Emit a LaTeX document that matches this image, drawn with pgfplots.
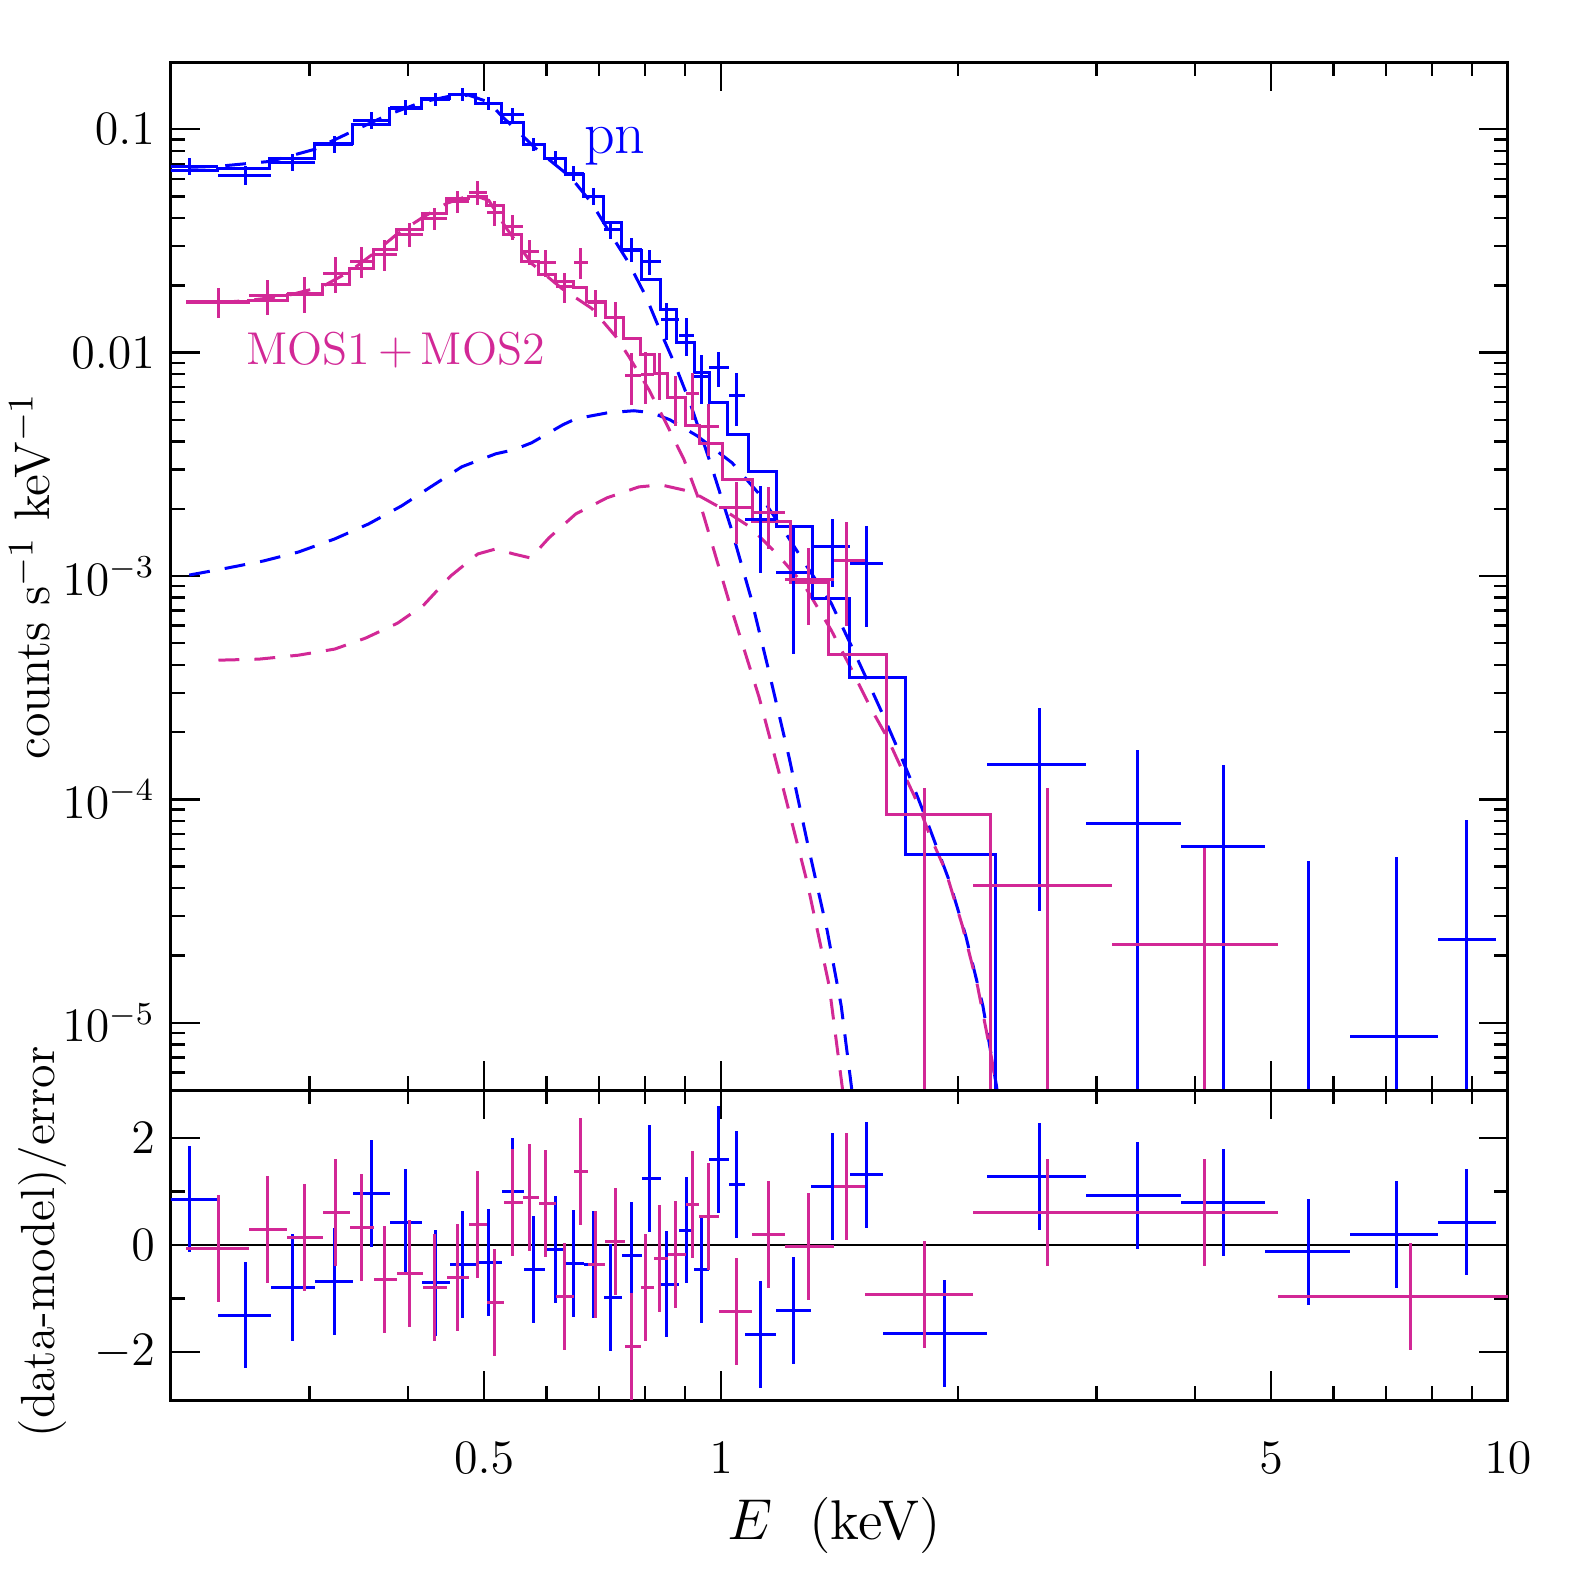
\documentclass[border=0pt]{standalone}
\usepackage{pgfplots}
\pgfplotsset{compat=1.18}
\usepackage{pgfplotstable}

\definecolor{pnblue}{RGB}{0,0,255}
\definecolor{mosred}{RGB}{210,40,150}

% pn data: energy, bin half widths, rate, errors, residual
\pgfplotstableread{
x xm xp y em ep r
0.2110 0.0120 0.0188 0.0683 0.0062 0.0062 0.86
0.2487 0.0189 0.0189 0.0622 0.0061 0.0061 -1.31
0.2854 0.0178 0.0191 0.0711 0.0064 0.0064 -0.79
0.3228 0.0183 0.0183 0.0857 0.0073 0.0073 -0.69
0.3597 0.0186 0.0195 0.1097 0.0093 0.0093 0.97
0.3974 0.0182 0.0191 0.1256 0.0094 0.0094 0.43
0.4339 0.0174 0.0181 0.1363 0.0089 0.0089 -0.71
0.4697 0.0177 0.0182 0.1436 0.0093 0.0093 -0.37
0.5068 0.0189 0.0197 0.1308 0.0085 0.0085 -0.32
0.5437 0.0172 0.0177 0.1168 0.0076 0.0076 1.00
0.5782 0.0168 0.0190 0.0857 0.0060 0.0060 -0.45
0.6168 0.0196 0.0183 0.0741 0.0056 0.0056 -0.09
0.6501 0.0150 0.0194 0.0635 0.0048 0.0048 -0.34
0.6894 0.0199 0.0204 0.0501 0.0045 0.0045 -0.36
0.7245 0.0147 0.0237 0.0356 0.0032 0.0032 -0.99
0.7704 0.0222 0.0230 0.0290 0.0035 0.0035 -0.20
0.8121 0.0187 0.0265 0.0256 0.0033 0.0033 1.25
0.8534 0.0148 0.0308 0.01406 0.0027 0.0027 -0.73
0.9026 0.0184 0.0214 0.01192 0.0023 0.0023 0.28
0.9432 0.0192 0.0223 0.00781 0.00195 0.00195 -0.45
0.9912 0.0257 0.0325 0.00857 0.00154 0.00154 1.60
1.0449 0.0212 0.0279 0.00641 0.00173 0.00173 1.14
1.1210 0.0482 0.0538 0.001783 0.00075 0.00075 -1.68
1.2346 0.0598 0.0671 0.001042 0.000594 0.000594 -1.22
1.3839 0.0822 0.0751 0.001349 0.000459 0.000459 1.10
1.5292 0.0702 0.0778 0.001132 0.000543 0.000543 1.31
1.9204 0.3134 0.2596 1e-6 9e-7 1e-7 -1.66
2.539 0.359 0.374 1.435e-4 1.12e-4 1.12e-4 1.29
3.383 0.470 0.464 7.8e-5 7.72e-5 8.8e-5 0.92
4.352 0.505 0.556 6.15e-5 6.09e-5 8.05e-5 0.79
5.582 0.674 0.713 1e-6 9e-7 5.2e-5 -0.13
7.223 0.928 0.923 8.65e-6 8.56e-6 4.64e-5 0.19
8.869 0.723 0.785 2.35e-5 2.33e-5 5.7e-5 0.43
}\pndata

% MOS1+MOS2 data
\pgfplotstableread{
x xm xp y em ep r
0.2298 0.0206 0.0211 0.01693 0.00262 0.00262 -0.07
0.2653 0.0144 0.0159 0.01801 0.00324 0.00324 0.29
0.2956 0.0144 0.0160 0.01839 0.00331 0.00331 0.14
0.3237 0.0121 0.0136 0.02261 0.00407 0.00407 0.60
0.3494 0.0121 0.0124 0.02559 0.00397 0.00397 0.32
0.3736 0.0118 0.0134 0.02751 0.00426 0.00426 -0.64
0.4021 0.0151 0.0156 0.03381 0.00406 0.00406 -0.53
0.4326 0.0149 0.0155 0.03990 0.00439 0.00439 -0.79
0.4628 0.0147 0.0152 0.04754 0.00523 0.00523 -0.60
0.4907 0.0127 0.0131 0.05219 0.00626 0.00626 0.39
0.5158 0.0120 0.0138 0.04244 0.00552 0.00552 -1.07
0.5437 0.0141 0.0161 0.03673 0.00477 0.00477 0.80
0.5715 0.0117 0.0152 0.02837 0.00369 0.00369 0.89
0.5990 0.0123 0.0178 0.02533 0.00355 0.00355 0.77
0.6333 0.0165 0.0168 0.01977 0.00306 0.00306 -0.97
0.6636 0.0135 0.0138 0.02533 0.00393 0.00393 1.38
0.6935 0.0161 0.0184 0.01676 0.00235 0.00235 -0.36
0.7350 0.0231 0.0198 0.01435 0.00244 0.00244 0.06
0.7704 0.0156 0.0207 0.00788 0.00205 0.00205 -1.90
0.8027 0.0116 0.0189 0.00796 0.00207 0.00207 -0.79
0.8362 0.0146 0.0197 0.00805 0.00193 0.00193 -0.25
0.8763 0.0204 0.0263 0.00628 0.00157 0.00157 -0.17
0.9186 0.0160 0.0190 0.00655 0.00157 0.00157 0.75
0.9627 0.0251 0.0315 0.00466 0.00121 0.00121 0.54
1.0449 0.0507 0.0501 0.002018 0.000626 0.000626 -1.24
1.1477 0.0527 0.0584 0.001917 0.000594 0.000594 0.19
1.2928 0.0867 0.0983 0.000969 0.000368 0.000368 -0.03
1.4428 0.0517 0.0818 0.001168 0.000572 0.000572 1.10
1.8128 0.2882 0.2772 1e-6 9e-7 1.11e-4 -0.93
2.599 0.509 0.536 4.11e-5 4.07e-5 7.1e-5 0.60
4.116 0.981 0.983 2.24e-5 2.22e-5 3.8e-5 0.60
7.525 2.426 2.475 1e-6 9e-7 1e-7 -0.97
}\mosdata

% folded models (bin left edges)
\pgfplotstableread{
x y
0.199 0.06548
0.2291 0.06685
0.2669 0.07413
0.3045 0.08654
0.3402 0.1053
0.3792 0.1243
0.4165 0.1377
0.4520 0.1436
0.4879 0.1308
0.5265 0.1075
0.5614 0.0857
0.5972 0.07413
0.6351 0.06282
0.6695 0.0501
0.7098 0.03828
0.7482 0.02867
0.7934 0.02126
0.8386 0.01559
0.8789 0.01109
0.9240 0.008134
0.9655 0.005969
1.0177 0.004289
1.0823 0.002927
1.1748 0.001658
1.3055 0.000796
1.4552 0.0003525
1.7143 5.669e-5
2.2319 1e-7
}\pnmodel

\pgfplotstableread{
x y
0.2092 0.01676
0.2509 0.01711
0.2812 0.0182
0.3116 0.02018
0.3373 0.0238
0.3618 0.02896
0.3870 0.0356
0.4177 0.0420
0.4481 0.04905
0.4780 0.0501
0.5038 0.04562
0.5296 0.03381
0.5583 0.02559
0.5867 0.02238
0.6168 0.02082
0.6501 0.01956
0.6755 0.01693
0.7140 0.01435
0.7526 0.01156
0.7911 0.009795
0.8240 0.00805
0.8559 0.00628
0.9000 0.004707
0.9376 0.003907
1.0029 0.002694
1.0950 0.001747
1.2238 0.00094
1.3680 0.000447
1.6218 8.568e-5
2.1990 1e-7
}\mosmodel

% model components
\pgfplotstableread{
x y
0.2110 0.06756
0.2298 0.06826
0.2676 0.07185
0.3045 0.08134
0.3402 0.09795
0.3792 0.1168
0.4165 0.1322
0.4520 0.1406
0.4780 0.1421
0.5068 0.1322
0.5265 0.1144
0.5534 0.09694
0.5867 0.07968
0.6444 0.06093
0.6852 0.04659
0.7245 0.03381
0.7614 0.02559
0.8027 0.01783
0.8386 0.01230
0.8739 0.008835
0.9132 0.005969
0.9711 0.003147
1.0297 0.001641
1.0919 0.000796
1.1477 0.0003868
1.2202 0.0001543
1.2898 6.219e-5
1.3642 2.585e-5
1.4213 1.192e-5
1.4668 4.955e-6
1.4763 4.47e-6
}\pnsoft

\pgfplotstableread{
x y
0.2110 0.001010
0.2359 0.001086
0.2622 0.001168
0.2905 0.001281
0.3228 0.001465
0.3566 0.001711
0.3927 0.002060
0.4276 0.002506
0.4683 0.003083
0.5173 0.003525
0.5451 0.003673
0.5745 0.003948
0.6295 0.004754
0.6538 0.005058
0.7182 0.005381
0.7750 0.005494
0.8168 0.005381
0.8609 0.005006
0.9322 0.004244
1.0328 0.003212
1.1177 0.002331
1.2096 0.001543
1.2868 0.001098
1.3803 0.0007567
1.4668 0.0004804
1.5337 0.0003417
1.6027 0.000243
1.6846 0.0001625
1.7500 0.000118
1.8255 8.049e-5
1.9495 4.334e-5
2.0461 2.455e-5
2.1513 1.192e-5
2.2387 5.218e-6
2.2514 4.47e-6
}\pnhard

\pgfplotstableread{
x y
0.2298 0.01676
0.2509 0.01711
0.2812 0.01801
0.3116 0.01977
0.3373 0.02307
0.3618 0.02779
0.3870 0.03381
0.4177 0.04030
0.4481 0.04659
0.4711 0.04955
0.4893 0.0501
0.5068 0.04803
0.5327 0.03635
0.5534 0.03019
0.5745 0.02506
0.6277 0.01936
0.6852 0.01576
0.7350 0.01180
0.7638 0.009596
0.8097 0.006826
0.8509 0.004855
0.8975 0.003313
0.9376 0.002192
1.0207 0.000796
1.1177 0.0002867
1.1958 0.0001168
1.2868 4.244e-5
1.3721 1.465e-5
1.4277 4.955e-6
1.4421 4.47e-6
}\mossoft

\pgfplotstableread{
x y
0.2298 0.00042
0.2584 0.0004244
0.2905 0.0004422
0.3228 0.0004707
0.3534 0.0005272
0.3882 0.0006153
0.4189 0.0007413
0.4533 0.001
0.4907 0.001255
0.5173 0.001322
0.5451 0.001255
0.5730 0.001204
0.6043 0.001481
0.6538 0.001897
0.7161 0.002238
0.7864 0.002506
0.8386 0.002559
0.9186 0.002380
0.9942 0.002039
1.0886 0.001658
1.1782 0.001255
1.2751 0.000911
1.3803 0.0005727
1.4668 0.0003789
1.5499 0.0002559
1.6258 0.0001897
1.6997 0.0001349
1.7759 9.694e-5
1.8425 6.896e-5
1.9290 4.804e-5
2.0256 2.723e-5
2.1177 1.465e-5
2.1923 7.88e-6
2.258 4.47e-6
}\moshard

\begin{document}
\begin{tikzpicture}
\useasboundingbox (0,0) rectangle (394.5pt,394.5pt);

\begin{axis}[
  scale only axis, width=334.25pt, height=257pt,
  at={(42.75pt,122pt)}, anchor=south west,
  xmode=log, ymode=log,
  xmin=0.2, xmax=10, ymin=5e-6, ymax=0.2,
  tick align=inside,
  major tick length=7.3pt, minor tick length=3.6pt,
  axis line style={line width=0.75pt},
  tick style={black, line width=0.6pt},
  xtick={0.5,1,5,10},
  minor xtick={0.2,0.3,0.4,0.6,0.7,0.8,0.9,2,3,4,6,7,8,9},
  xticklabels={},
  ytick={1e-5,1e-4,1e-3,0.01,0.1},
  yticklabels={$10^{-5}$,$10^{-4}$,$10^{-3}$,$0.01$,$0.1$},
  minor ytick={6e-6,7e-6,8e-6,9e-6,2e-5,3e-5,4e-5,5e-5,6e-5,7e-5,8e-5,9e-5,
    2e-4,3e-4,4e-4,5e-4,6e-4,7e-4,8e-4,9e-4,2e-3,3e-3,4e-3,5e-3,6e-3,7e-3,8e-3,9e-3,
    0.02,0.03,0.04,0.05,0.06,0.07,0.08,0.09,0.2},
  tick label style={font=\fontsize{11.5}{14}\selectfont},
  yticklabel style={anchor=east, xshift=-0.5pt},
  ylabel={counts s$^{-1}$ keV$^{-1}$},
  ylabel style={at={(axis description cs:-0.0905,0.5)}, anchor=base,
    font=\fontsize{12.5}{15}\selectfont},
]
\addplot[pnblue, line width=0.75pt, dash pattern=on 5.2pt off 3.8pt] table {\pnsoft};
\addplot[pnblue, line width=0.75pt, dash pattern=on 5.2pt off 3.8pt] table {\pnhard};
\addplot[mosred, line width=0.75pt, dash pattern=on 5.2pt off 3.8pt] table {\mossoft};
\addplot[mosred, line width=0.75pt, dash pattern=on 5.2pt off 3.8pt] table {\moshard};
\addplot[const plot, pnblue, line width=0.75pt] table {\pnmodel};
\addplot[const plot, mosred, line width=0.75pt] table {\mosmodel};
\addplot[draw=none, mark=none,
  error bars/x dir=both, error bars/x explicit,
  error bars/y dir=both, error bars/y explicit,
  error bars/error mark=none,
  error bars/error bar style={draw=pnblue, solid, line width=0.75pt}]
  table[x=x, y=y, x error minus=xm, x error plus=xp,
  y error minus=em, y error plus=ep] {\pndata};
\addplot[draw=none, mark=none,
  error bars/x dir=both, error bars/x explicit,
  error bars/y dir=both, error bars/y explicit,
  error bars/error mark=none,
  error bars/error bar style={draw=mosred, solid, line width=0.75pt}]
  table[x=x, y=y, x error minus=xm, x error plus=xp,
  y error minus=em, y error plus=ep] {\mosdata};
\node[text=pnblue, font=\fontsize{15}{18}\selectfont] at (axis cs:0.7329,0.0842) {pn};
\node[text=mosred, font=\fontsize{11.5}{14}\selectfont] at (axis cs:0.3859,0.01031) {MOS1\,+\,MOS2};
\end{axis}

\begin{axis}[
  scale only axis, width=334.25pt, height=77.5pt,
  at={(42.75pt,44.5pt)}, anchor=south west,
  xmode=log,
  xmin=0.2, xmax=10, ymin=-2.9, ymax=2.9,
  tick align=inside,
  major tick length=7.3pt, minor tick length=3.6pt,
  axis line style={line width=0.75pt},
  tick style={black, line width=0.6pt},
  xtick={0.5,1,5,10},
  minor xtick={0.2,0.3,0.4,0.6,0.7,0.8,0.9,2,3,4,6,7,8,9},
  xticklabels={$0.5$,$1$,$5$,$10$},
  ytick={-2,0,2}, minor ytick={-1,1},
  tick label style={font=\fontsize{11.5}{14}\selectfont},
  yticklabel style={anchor=east, xshift=-0.5pt},
  xticklabel style={yshift=-7pt},
  xlabel={$E$\ \ (keV)},
  xlabel style={at={(axis description cs:0.496,-0.406)}, anchor=center,
    font=\fontsize{14}{17}\selectfont},
  ylabel={(data-model)/error},
  ylabel style={at={(axis description cs:-0.0868,0.51)}, anchor=base,
    font=\fontsize{12}{15}\selectfont},
]
\addplot[black, line width=0.4pt] coordinates {(0.2,0) (10,0)};
\addplot[draw=none, mark=none,
  error bars/x dir=both, error bars/x explicit,
  error bars/y dir=both, error bars/y fixed=1,
  error bars/error mark=none,
  error bars/error bar style={draw=pnblue, solid, line width=0.75pt}]
  table[x=x, y=r, x error minus=xm, x error plus=xp] {\pndata};
\addplot[draw=none, mark=none,
  error bars/x dir=both, error bars/x explicit,
  error bars/y dir=both, error bars/y fixed=1,
  error bars/error mark=none,
  error bars/error bar style={draw=mosred, solid, line width=0.75pt}]
  table[x=x, y=r, x error minus=xm, x error plus=xp] {\mosdata};
\end{axis}
\end{tikzpicture}
\end{document}
